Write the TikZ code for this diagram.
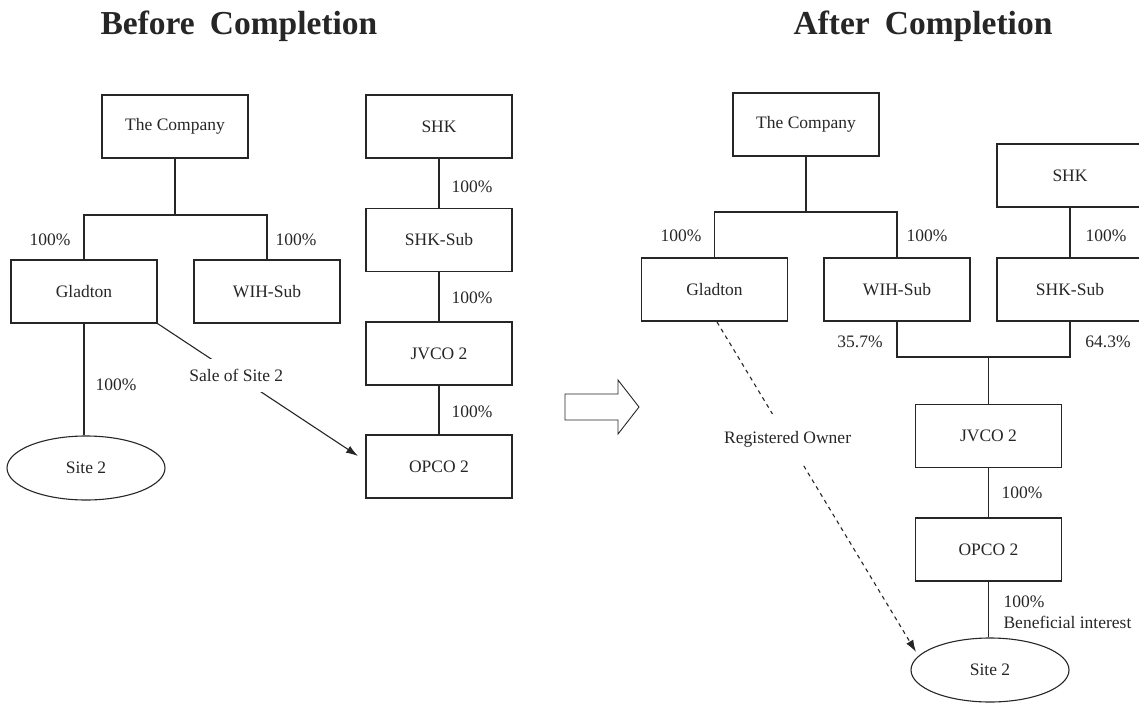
\documentclass[tikz,border=0pt]{standalone}
\usepackage{fontspec}
\setmainfont{Liberation Serif}
\newfontfamily\titlefont{Liberation Serif}[WordSpace=1.8]
\usetikzlibrary{arrows.meta,shapes.geometric}
\definecolor{ink}{HTML}{262626}
\tikzset{
  box/.style={draw=ink, rectangle, minimum width=146pt, minimum height=63pt, inner sep=0pt},
  site/.style={draw=ink, ellipse, minimum width=158pt, minimum height=64pt, inner sep=0pt},
  pct/.style={inner sep=0pt, text=ink},
  conn/.style={draw=ink, line width=1.1pt},
  title/.style={font=\titlefont\fontsize{33.5}{38}\selectfont\bfseries, text=ink, inner sep=0pt, anchor=base west},
  tip/.style={-{Latex[length=12pt,width=8pt]}}
}
\begin{document}
\begin{tikzpicture}[x=1pt,y=-1pt,font=\fontsize{17.5}{20}\selectfont, every node/.append style={text=ink}, line width=1.1pt]
\useasboundingbox (0,0) rectangle (1139,706);

% Titles
\node[title] (t1) at (100,35) {Before Completion};
\node[title] (t2) at (793,35) {After Completion};

% ---------- Before ----------
\node[box] (co1) at (175,126.5) {The Company};
\node[box] (gl1) at (84,291.5) {Gladton};
\node[box] (wih1) at (267,291.5) {WIH-Sub};
\node[box] (shk1) at (439,126.5) {SHK};
\node[box] (shks1) at (439,240) {SHK-Sub};
\node[box] (jv1) at (439,353.5) {JVCO 2};
\node[box] (op1) at (439,466.5) {OPCO 2};
\node[site] (s1) at (86,468) {Site 2};

\coordinate (j1) at (175,215);
\draw[conn] (co1.south) -- (j1);
\draw[conn] (gl1.north) |- (j1) -| (wih1.north);
\draw[conn] (gl1.south) -- (gl1.south |- s1.north);
\draw[conn] (shk1) -- (shks1);
\draw[conn] (shks1) -- (jv1);
\draw[conn] (jv1) -- (op1);

\node[pct] (p1) at (50,240) {100\%};
\node[pct] (p2) at (296,240) {100\%};
\node[pct] (p3) at (116,385) {100\%};
\node[pct] (p4) at (472,187) {100\%};
\node[pct] (p5) at (472,298) {100\%};
\node[pct] (p6) at (472,412) {100\%};

\coordinate (saleend) at (358,456);
\draw[conn, tip] (gl1.south east) -- node[pos=0.393, fill=white, inner xsep=1pt, inner ysep=10.5pt] (sale) {Sale of Site 2} (saleend);

% Hollow arrow
\draw[draw=ink, line width=0.9pt, fill=white] (565,394) -- (618,394) -- (618,380) -- (639,407) -- (618,434) -- (618,420) -- (565,420) -- cycle;

% ---------- After ----------
\node[box] (co2) at (806,124.5) {The Company};
\node[box] (gl2) at (714.5,289.5) {Gladton};
\node[box] (wih2) at (897,289.5) {WIH-Sub};
\node[box] (shk2) at (1070,175.5) {SHK};
\node[box] (shks2) at (1070,289.5) {SHK-Sub};
\node[box] (jv2) at (988.5,436) {JVCO 2};
\node[box] (op2) at (988.5,549.5) {OPCO 2};
\node[site] (s2) at (990,670) {Site 2};

\coordinate (j2) at (806,212);
\coordinate (j3) at (988.5,357);
\draw[conn] (co2.south) -- (j2);
\draw[conn] (gl2.north) |- (j2) -| (wih2.north);
\draw[conn] (shk2) -- (shks2);
\draw[conn] (wih2.south) |- (j3) -| (shks2.south);
\draw[conn] (j3) -- (jv2.north);
\draw[conn] (jv2) -- (op2);
\draw[conn] (op2.south) -- (op2.south |- s2.north);

\node[pct] (q1) at (681,236) {100\%};
\node[pct] (q2) at (927,236) {100\%};
\node[pct] (q3) at (1106,236) {100\%};
\node[pct] (q4) at (860,342) {35.7\%};
\node[pct] (q5) at (1108,342) {64.3\%};
\node[pct] (q6) at (1022,493) {100\%};
\node[pct, anchor=west] (q7) at (1003,602) {100\%};
\node[pct, anchor=west] (q8) at (1003,622) {Beneficial interest};

\coordinate (regstart) at (717,322);
\coordinate (regend) at (916,652);
\draw[conn, tip, dash pattern=on 4pt off 4pt] (regstart) -- node[pos=0.355, fill=white, inner xsep=1pt, inner ysep=17pt] (reg) {Registered Owner} (regend);
\end{tikzpicture}
\end{document}
